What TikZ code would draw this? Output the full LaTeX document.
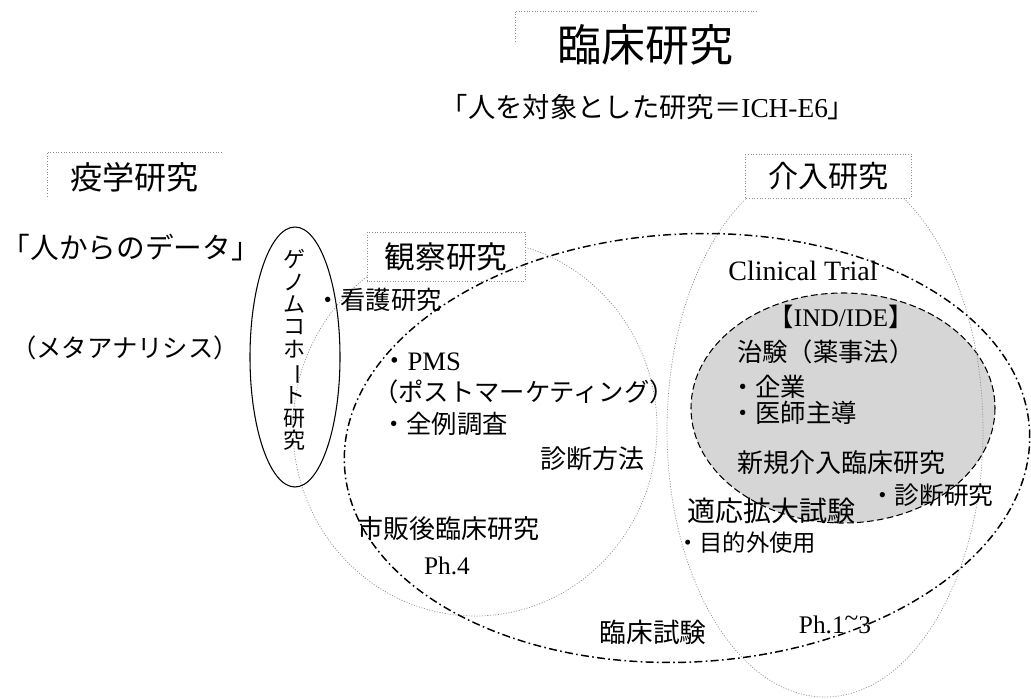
\documentclass[tikz,border=0pt]{standalone}
\usepackage{fontspec}
\setmainfont{Liberation Serif}
\newfontfamily\jp{Noto Sans CJK JP}
\newcommand\fsz[1]{\fontsize{#1}{#1}\selectfont}
\begin{document}
\begin{tikzpicture}[x=0.75pt,y=-0.75pt,
  every node/.style={inner sep=0pt,outer sep=0pt,text=black},
  faint/.style={draw=black!45,line width=0.5pt,dash pattern=on 0.8pt off 1.2pt},
  boxline/.style={draw=black!45,line width=0.5pt,dash pattern=on 0.8pt off 1.2pt},
  dashdot/.style={draw=black,line width=1.1pt,dash pattern=on 6pt off 2.5pt on 1.2pt off 2.5pt},
  trialshade/.style={draw=black,line width=0.8pt,dash pattern=on 5pt off 2.5pt,fill=black!16},
  genomeline/.style={draw=black,line width=0.8pt}]
\useasboundingbox (0,0) rectangle (1031,699);

% shaded chiken region
\draw[trialshade] (843,408) ellipse [x radius=152, y radius=115];
% faint ellipses (observational / interventional)
\draw[faint] (475,428) ellipse [x radius=182, y radius=188];
\draw[faint] (825,430) ellipse [x radius=158, y radius=267];

% boxes
\draw[boxline] (757,11) -- (515,11) -- (515,42);
\draw[boxline] (222,152) -- (47,152) -- (47,197);
\draw[boxline,fill=white] (367,232) rectangle (525,281);
\draw[boxline,fill=white] (745,154) rectangle (911,198);

% genome cohort ellipse
\draw[genomeline] (295,357) ellipse [x radius=45, y radius=130];
% clinical trial dash-dot ellipse
\draw[dashdot,rotate around={3:(687,448)}] (687,448) ellipse [x radius=343, y radius=214];

% texts
\node[font=\jp\fsz{33}] (title) at (645,45) {臨床研究};
\node[font=\fsz{20.5}] (sub) at (648,107) {{\jp 「人を対象とした研究＝}ICH-E6{\jp 」}};
\node[font=\jp\fsz{24}] (epi) at (134,177) {疫学研究};
\node[font=\jp\fsz{21.5}] (fromhuman) at (131,248) {「人からのデータ」};
\node[font=\jp\fsz{19}] (meta) at (125,348) {（メタアナリシス）};
\node[font=\jp\fsz{23}] (obs) at (446,257) {観察研究};
\node[font=\jp\fsz{22.5}] (intv) at (828,176) {介入研究};
\node[font=\jp\fontsize{16.5}{16.7}\selectfont,align=center] (genome) at (294,350)
  {ゲ\\ノ\\ム\\コ\\ホ\\\rotatebox[origin=c]{-90}{ー}\\ト\\研\\究};
\node[font=\jp\fsz{19},anchor=west] (nursing) at (315,300) {・看護研究};
\node[font=\fsz{20},anchor=west] (pms) at (381,362) {{\jp ・}PMS};
\node[font=\jp\fsz{19}] (postmkt) at (524,392) {（ポストマーケティング）};
\node[font=\jp\fsz{19},anchor=west] (allcase) at (381,424) {・全例調査};
\node[font=\jp\fsz{19.5}] (diagm) at (592,459) {診断方法};
\node[font=\jp\fsz{19.5}] (postclin) at (448,529) {市販後臨床研究};
\node[font=\fsz{19}] (ph4) at (447,566) {Ph.4};
\node[font=\jp\fsz{20}] (clintest) at (653,632) {臨床試験};
\node[font=\fsz{19}] (ph13) at (835,625) {Ph.1\raisebox{0.3em}{\textasciitilde}3};
\node[font=\fsz{21}] (ct) at (803,271) {Clinical Trial};
\node[font=\fsz{19}] (ind) at (841,317) {{\jp 【}IND/IDE{\jp 】}};
\node[font=\jp\fsz{19},anchor=west] (chiken) at (737,352) {治験（薬事法）};
\node[font=\jp\fsz{19},anchor=west] (kigyo) at (730,387) {・企業};
\node[font=\jp\fsz{19},anchor=west] (ishi) at (730,413) {・医師主導};
\node[font=\jp\fsz{19.5}] (shinki) at (841,463) {新規介入臨床研究};
\node[font=\jp\fsz{18.5},anchor=west] (shindan) at (870,495) {・診断研究};
\node[font=\jp\fsz{21}] (tekio) at (771,511) {適応拡大試験};
\node[font=\jp\fsz{17.5},anchor=west] (mokuteki) at (676,543) {・目的外使用};
\end{tikzpicture}
\end{document}
